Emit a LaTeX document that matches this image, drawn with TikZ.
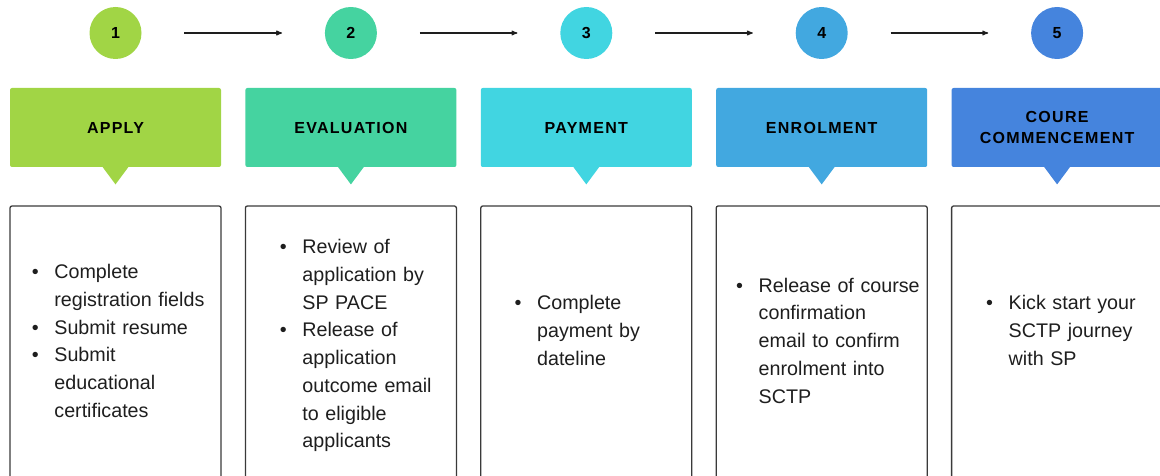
\documentclass[tikz,border=0pt]{standalone}
\usepackage{fontspec}
\setmainfont{Liberation Sans}
\newfontfamily\headfont[LetterSpace=8]{Liberation Sans}
\usetikzlibrary{arrows}
\usetikzlibrary{positioning}

\definecolor{stepA}{HTML}{A1D545}
\definecolor{stepB}{HTML}{45D3A0}
\definecolor{stepC}{HTML}{41D5E1}
\definecolor{stepD}{HTML}{42A8E0}
\definecolor{stepE}{HTML}{4584DD}
\definecolor{cardline}{HTML}{3A3A3A}
\definecolor{ink}{HTML}{1E1E1E}

% one bullet point, hanging indent, \newline for breaks
\newcommand{\bul}[1]{\hangindent=22.5pt\hangafter=1\noindent\makebox[22.5pt][l]{\textbullet}#1\par}

\begin{document}
\begin{tikzpicture}[x=1pt,y=-1pt,->,>=stealth',thick,
  num/.style={circle,minimum size=52pt,inner sep=0pt,
  font=\bfseries\fontsize{16}{16}\selectfont,text=black},
  head/.style={rectangle,minimum width=211pt,minimum height=79pt,
  rounded corners=2pt,inner sep=0pt,align=center,text=black,
  font=\headfont\bfseries\fontsize{16}{21.5}\selectfont},
  card/.style={rectangle,draw=cardline,line width=1.3pt,
  minimum width=211pt,minimum height=290pt,rounded corners=2pt},
  points/.style={anchor=north west,inner sep=0pt,text width=205pt,
  align=left,text=ink,font=\fontsize{19.7}{27.7}\selectfont}]

  \useasboundingbox (0,0) rectangle (1160,476);

  \node[num,fill=stepA] (n1) at (115.5,33) {1};
  \node[num,fill=stepB] (n2) at (350.9,33) {2};
  \node[num,fill=stepC] (n3) at (586.3,33) {3};
  \node[num,fill=stepD] (n4) at (821.7,33) {4};
  \node[num,fill=stepE] (n5) at (1057.1,33) {5};

  \node[head,fill=stepA] (h1) at (115.5,127.5) {APPLY};
  \node[head,fill=stepB] (h2) at (350.9,127.5) {EVALUATION};
  \node[head,fill=stepC] (h3) at (586.3,127.5) {PAYMENT};
  \node[head,fill=stepD] (h4) at (821.7,127.5) {ENROLMENT};
  \node[head,fill=stepE] (h5) at (1057.1,127.5) {COURE\\COMMENCEMENT};

  %pointers under the headers
  \foreach \h/\c in {h1/stepA,h2/stepB,h3/stepC,h4/stepD,h5/stepE}
    \fill[\c,-] (\h.south) ++(-13,-0.5) -- ++(13,17.5) -- ++(13,-17.5) -- cycle;

  \node[card] (b1) at (115.5,351) {};
  \node[card] (b2) at (350.9,351) {};
  \node[card] (b3) at (586.3,351) {};
  \node[card] (b4) at (821.7,351) {};
  \node[card] (b5) at (1057.1,351) {};

  \node[points] (t1) at (31.5,264.2) {\bul{Complete\newline registration fields}
    \bul{Submit resume}\bul{Submit\newline educational\newline certificates}};
  \node[points] (t2) at (279.5,239.2) {\bul{Review of\newline application by\newline SP PACE}
    \bul{Release of\newline application\newline outcome email\newline to eligible\newline applicants}};
  \node[points] (t3) at (514.2,295.2) {\bul{Complete\newline payment by\newline dateline}};
  \node[points] (t4) at (735.8,277.6) {\bul{Release of course\newline confirmation\newline email to confirm\newline enrolment into\newline SCTP}};
  \node[points] (t5) at (985.8,295.2) {\bul{Kick start your\newline SCTP journey\newline with SP}};

  \path[draw=ink,line width=1.1pt,shorten <=42.5pt,shorten >=42.5pt]
    %step to step
    (n1) edge (n2)
    (n2) edge (n3)
    (n3) edge (n4)
    (n4) edge (n5);

\end{tikzpicture}
\end{document}
